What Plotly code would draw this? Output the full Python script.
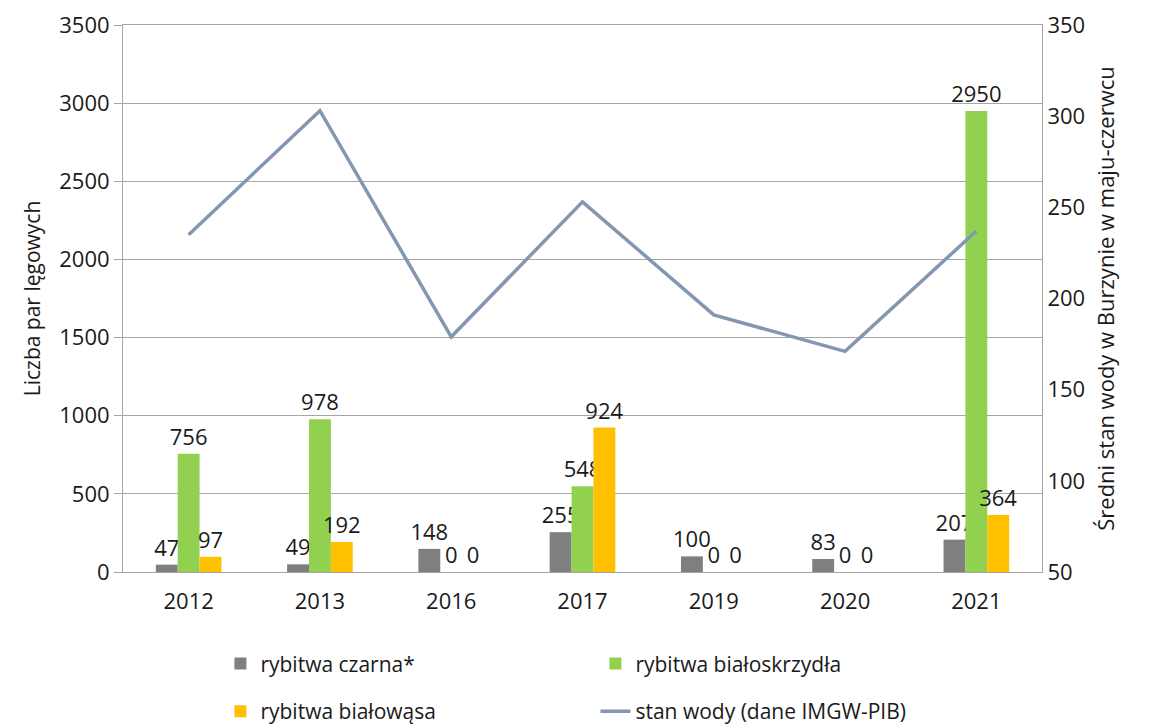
import plotly.graph_objects as go

years = ["2012", "2013", "2016", "2017", "2019", "2020", "2021"]
czarna = [47, 49, 148, 255, 100, 83, 207]
bialoskrzydla = [756, 978, 0, 548, 0, 0, 2950]
bialowasa = [97, 192, 0, 924, 0, 0, 364]
stan_wody = [235, 303, 179, 253, 191, 171, 237]

FONT = "Open Sans"
TICK = 22
LAB = 21
TXT = "#1a1a1a"

fig = go.Figure()
fig.add_trace(go.Bar(x=years, y=czarna, name="rybitwa czarna*", marker_color="#7F7F7F",
                     text=czarna, textposition="outside", legend="legend"))
fig.add_trace(go.Bar(x=years, y=bialoskrzydla, name="rybitwa białoskrzydła", marker_color="#92D050",
                     text=bialoskrzydla, textposition="outside", legend="legend"))
fig.add_trace(go.Bar(x=years, y=bialowasa, name="rybitwa białowąsa", marker_color="#FFC000",
                     text=bialowasa, textposition="outside", legend="legend2"))
fig.add_trace(go.Scatter(x=years, y=stan_wody, name="stan wody (dane IMGW-PIB)", mode="lines",
                         line=dict(color="#8497B0", width=3.5), yaxis="y2", legend="legend2"))

fig.update_traces(selector=dict(type="bar"), cliponaxis=False, constraintext="none",
                  textfont=dict(family=FONT, size=TICK, color=TXT), marker_line_width=0)

fig.update_layout(
    width=1149, height=727,
    margin=dict(l=115, r=115, t=17, b=163, autoexpand=False),
    paper_bgcolor="white", plot_bgcolor="white",
    font=dict(family=FONT, size=LAB, color=TXT),
    barmode="group", bargap=0.5, bargroupgap=0,
    xaxis=dict(showgrid=False, ticks="", showline=True, linecolor="#A6A6A6", linewidth=1,
               mirror=True, tickfont=dict(size=TICK), ticklabelstandoff=10),
    yaxis=dict(range=[0, 3500], dtick=500, showgrid=True, gridcolor="#A6A6A6", gridwidth=1,
               showline=True, linecolor="#A6A6A6", ticks="outside", ticklen=8, tickcolor="#A6A6A6",
               tickfont=dict(size=TICK), ticklabeloverflow="allow",
               title=dict(text="Liczba par lęgowych", font=dict(size=LAB), standoff=12),
               zeroline=False),
    yaxis2=dict(range=[50, 350], dtick=50, overlaying="y", side="right", showgrid=False,
                showline=True, linecolor="#A6A6A6", ticks="", zeroline=False,
                tickfont=dict(size=TICK), ticklabeloverflow="allow",
                title=dict(text="Średni stan wody w Burzynie w maju-czerwcu", font=dict(size=LAB + 1), standoff=14)),
    legend=dict(orientation="h", x=0.106, xanchor="left", y=-0.168, yanchor="middle",
                entrywidth=330, entrywidthmode="pixels", font=dict(size=LAB), traceorder="normal"),
    legend2=dict(orientation="h", x=0.106, xanchor="left", y=-0.255, yanchor="middle",
                 entrywidth=330, entrywidthmode="pixels", font=dict(size=LAB), traceorder="normal"),
    showlegend=True,
)

fig.write_html("out.html")
